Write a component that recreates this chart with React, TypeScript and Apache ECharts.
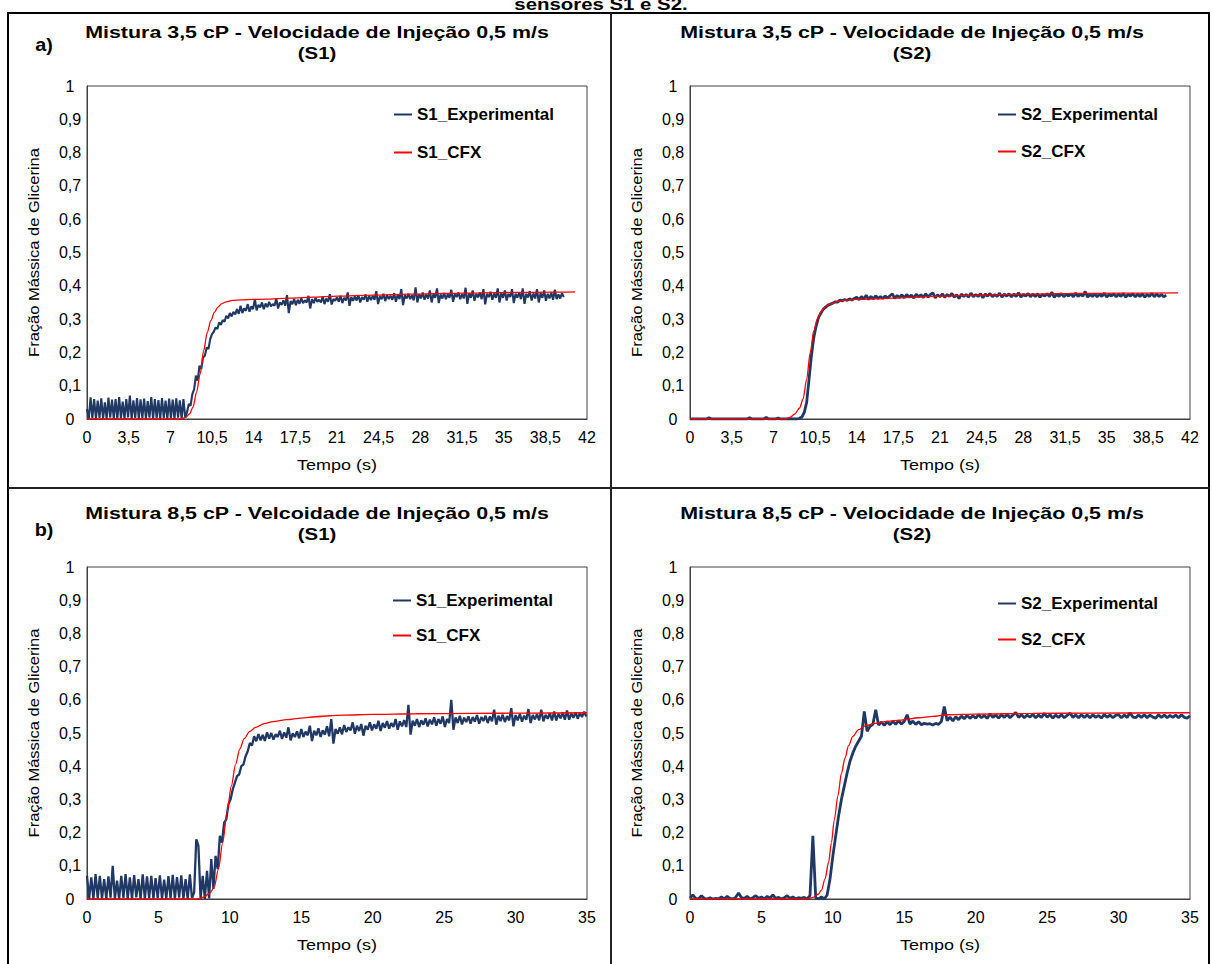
import React, { useEffect, useRef } from 'react';
import * as echarts from 'echarts';

const FONT = "'Liberation Sans', Arial, Helvetica, sans-serif";

// ---------- text ----------
const TOP_TITLE = 'sensores S1 e S2.';
const TITLE_A = ['Mistura 3,5 cP - Velocidade de Injeção 0,5 m/s', '(S1)'];
const TITLE_C = ['Mistura 3,5 cP - Velocidade de Injeção 0,5 m/s', '(S2)'];
const TITLE_B = ['Mistura 8,5 cP - Velcoidade de Injeção 0,5 m/s', '(S1)'];
const TITLE_D = ['Mistura 8,5 cP - Velocidade de Injeção 0,5 m/s', '(S2)'];
const X_NAME = 'Tempo (s)';
const Y_NAME = 'Fração Mássica de Glicerina';

// ---------- axes ----------
const X_MAX_TOP = 42;
const X_STEP_TOP = 3.5;
const X_MAX_BOTTOM = 35;
const X_STEP_BOTTOM = 5;
const Y_MAX = 1;
const Y_STEP = 0.1;

// ---------- data ----------
// sampling step (s) of each experimental record
const DT_A = 0.15;
const DT_B = 0.15;
const DT_C = 0.2;
const DT_D = 0.2;

// (a) 3,5 cP – S1 experimental
const EXP_A = [
  0.03, 0, 0.065, 0.002, 0.06, 0, 0.055, 0.003, 0.062, 0,
  0.05, 0, 0.064, 0.004, 0.058, 0, 0.06, 0, 0.066, 0.002,
  0.052, 0, 0.06, 0.005, 0.07, 0, 0.056, 0.003, 0.063, 0,
  0.059, 0.002, 0.061, 0, 0.054, 0.004, 0.066, 0, 0.06, 0.002,
  0.057, 0, 0.063, 0.003, 0.055, 0, 0.061, 0.002, 0.058, 0,
  0.062, 0.004, 0.056, 0, 0.06, 0.005, 0.02, 0.045, 0.04, 0.075,
  0.09, 0.13, 0.115, 0.16, 0.15, 0.185, 0.19, 0.215, 0.21, 0.24,
  0.255, 0.262, 0.275, 0.27, 0.29, 0.283, 0.297, 0.292, 0.31, 0.302,
  0.318, 0.308, 0.322, 0.314, 0.33, 0.316, 0.34, 0.318, 0.332, 0.325,
  0.345, 0.322, 0.338, 0.33, 0.36, 0.326, 0.343, 0.335, 0.35, 0.33,
  0.347, 0.336, 0.352, 0.338, 0.345, 0.34, 0.362, 0.332, 0.35, 0.343,
  0.356, 0.34, 0.372, 0.318, 0.354, 0.345, 0.36, 0.342, 0.358, 0.346,
  0.362, 0.348, 0.356, 0.35, 0.37, 0.332, 0.36, 0.348, 0.364, 0.352,
  0.358, 0.35, 0.368, 0.345, 0.362, 0.352, 0.375, 0.344, 0.36, 0.355,
  0.366, 0.352, 0.37, 0.348, 0.364, 0.356, 0.38, 0.34, 0.366, 0.355,
  0.368, 0.356, 0.372, 0.35, 0.366, 0.358, 0.374, 0.352, 0.37, 0.357,
  0.37, 0.358, 0.384, 0.345, 0.368, 0.36, 0.376, 0.354, 0.372, 0.36,
  0.37, 0.358, 0.378, 0.352, 0.374, 0.36, 0.39, 0.342, 0.372, 0.362,
  0.376, 0.36, 0.372, 0.356, 0.395, 0.35, 0.375, 0.362, 0.38, 0.358,
  0.374, 0.362, 0.386, 0.35, 0.376, 0.364, 0.392, 0.348, 0.374, 0.362,
  0.378, 0.36, 0.374, 0.364, 0.388, 0.352, 0.376, 0.366, 0.38, 0.36,
  0.375, 0.362, 0.394, 0.346, 0.378, 0.364, 0.386, 0.355, 0.376, 0.365,
  0.38, 0.36, 0.39, 0.344, 0.376, 0.366, 0.382, 0.358, 0.377, 0.364,
  0.392, 0.35, 0.378, 0.364, 0.386, 0.356, 0.376, 0.366, 0.39, 0.348,
  0.376, 0.364, 0.38, 0.36, 0.392, 0.346, 0.376, 0.365, 0.384, 0.356,
  0.377, 0.362, 0.39, 0.35, 0.378, 0.364, 0.386, 0.355, 0.376, 0.362,
  0.38, 0.358, 0.388, 0.36, 0.374, 0.362, 0.378, 0.366,
];

// (a) 3,5 cP – S1 CFX  [tempo, fração]
const CFX_A = [
  [0, 0], [7.9, 0], [8.3, 0.005], [8.6, 0.015], [8.9, 0.035], [9.2, 0.08],
  [9.5, 0.135], [9.8, 0.205], [10.1, 0.26], [10.4, 0.295], [10.7, 0.32],
  [11.0, 0.336], [11.3, 0.346], [11.7, 0.352], [12.2, 0.356], [13, 0.358],
  [14, 0.359], [15, 0.36], [17, 0.363], [19, 0.366], [21, 0.369], [24, 0.372],
  [27, 0.375], [30, 0.377], [33, 0.379], [36, 0.38], [39, 0.381], [41, 0.382],
];

// (a) 3,5 cP – S2 experimental
const EXP_C = [
  0, 0, 0, 0, 0, 0, 0, 0, 0.004, 0,
  0, 0, 0, 0, 0, 0, 0, 0, 0, 0,
  0, 0, 0, 0, 0, 0.004, 0, 0, 0, 0,
  0, 0, 0.005, 0, 0, 0, 0, 0.003, 0, 0,
  0, 0, 0, 0, 0, 0, 0.002, 0.006, 0.02, 0.05,
  0.12, 0.19, 0.245, 0.28, 0.305, 0.318, 0.33, 0.336, 0.342, 0.345,
  0.348, 0.352, 0.351, 0.357, 0.355, 0.359, 0.356, 0.361, 0.357, 0.362,
  0.366, 0.358, 0.368, 0.36, 0.372, 0.359, 0.368, 0.361, 0.37, 0.362,
  0.368, 0.362, 0.369, 0.363, 0.37, 0.376, 0.362, 0.371, 0.365, 0.373,
  0.364, 0.374, 0.366, 0.372, 0.363, 0.375, 0.367, 0.373, 0.365, 0.376,
  0.366, 0.374, 0.379, 0.364, 0.373, 0.367, 0.376, 0.365, 0.374, 0.368,
  0.377, 0.366, 0.373, 0.362, 0.375, 0.368, 0.374, 0.366, 0.378, 0.367,
  0.374, 0.368, 0.376, 0.364, 0.375, 0.369, 0.377, 0.367, 0.374, 0.368,
  0.378, 0.366, 0.375, 0.369, 0.376, 0.367, 0.375, 0.368, 0.379, 0.366,
  0.374, 0.369, 0.377, 0.367, 0.375, 0.368, 0.376, 0.366, 0.374, 0.369,
  0.376, 0.368, 0.381, 0.365, 0.375, 0.368, 0.377, 0.367, 0.374, 0.369,
  0.376, 0.367, 0.378, 0.368, 0.375, 0.369, 0.383, 0.366, 0.374, 0.368,
  0.376, 0.367, 0.375, 0.368, 0.378, 0.366, 0.374, 0.369, 0.376, 0.367,
  0.375, 0.368, 0.377, 0.366, 0.374, 0.369, 0.376, 0.367, 0.375, 0.368,
  0.376, 0.366, 0.374, 0.368, 0.377, 0.367, 0.375, 0.368, 0.374, 0.367, 0.372,
];

// (a) 3,5 cP – S2 CFX
const CFX_C = [
  [0, 0], [8.0, 0], [8.4, 0.005], [8.8, 0.015], [9.2, 0.033], [9.5, 0.06],
  [9.8, 0.12], [10.1, 0.2], [10.4, 0.265], [10.7, 0.3], [11.0, 0.322],
  [11.4, 0.338], [11.8, 0.346], [12.4, 0.353], [13, 0.357], [14, 0.359],
  [15, 0.36], [16, 0.361], [17, 0.363], [19, 0.366], [21, 0.369], [24, 0.372],
  [28, 0.375], [32, 0.377], [36, 0.378], [41, 0.379],
];

// (b) 8,5 cP – S1 experimental
const EXP_B = [
  0.07, 0, 0.065, 0, 0.075, 0.002, 0.07, 0, 0.06, 0,
  0.068, 0.004, 0.1, 0, 0.055, 0, 0.07, 0.003, 0.075, 0,
  0.065, 0, 0.072, 0.005, 0.06, 0, 0.074, 0, 0.068, 0.002,
  0.07, 0, 0.063, 0.003, 0.071, 0, 0.058, 0, 0.069, 0.002,
  0.073, 0, 0.066, 0.004, 0.071, 0, 0.06, 0, 0.074, 0.003,
  0.02, 0.18, 0.16, 0, 0.07, 0, 0.085, 0.002, 0.12, 0.03,
  0.13, 0.09, 0.19, 0.17, 0.23, 0.24, 0.285, 0.3, 0.33, 0.35,
  0.37, 0.375, 0.4, 0.405, 0.43, 0.445, 0.47, 0.462, 0.49, 0.475,
  0.497, 0.478, 0.494, 0.476, 0.502, 0.483, 0.5, 0.48, 0.496, 0.488,
  0.507, 0.482, 0.502, 0.486, 0.517, 0.478, 0.499, 0.488, 0.505, 0.484,
  0.512, 0.488, 0.504, 0.493, 0.522, 0.476, 0.507, 0.493, 0.514, 0.488,
  0.508, 0.495, 0.52, 0.49, 0.542, 0.468, 0.512, 0.498, 0.517, 0.496,
  0.524, 0.503, 0.517, 0.508, 0.532, 0.498, 0.522, 0.506, 0.527, 0.492,
  0.522, 0.51, 0.532, 0.508, 0.526, 0.513, 0.537, 0.506, 0.53, 0.516,
  0.536, 0.513, 0.53, 0.518, 0.542, 0.51, 0.535, 0.52, 0.539, 0.518,
  0.585, 0.495, 0.537, 0.522, 0.542, 0.518, 0.538, 0.525, 0.544, 0.52,
  0.54, 0.526, 0.547, 0.522, 0.542, 0.528, 0.55, 0.518, 0.542, 0.53,
  0.6, 0.51, 0.547, 0.53, 0.552, 0.526, 0.546, 0.533, 0.55, 0.528,
  0.548, 0.534, 0.554, 0.528, 0.548, 0.536, 0.552, 0.53, 0.55, 0.535,
  0.57, 0.525, 0.552, 0.536, 0.555, 0.533, 0.551, 0.538, 0.575, 0.52,
  0.554, 0.538, 0.558, 0.534, 0.552, 0.54, 0.572, 0.53, 0.554, 0.541,
  0.557, 0.538, 0.57, 0.535, 0.555, 0.543, 0.56, 0.538, 0.565, 0.538,
  0.558, 0.544, 0.562, 0.54, 0.568, 0.54, 0.559, 0.546, 0.562, 0.543,
  0.56, 0.548, 0.564, 0.55,
];

// (b) 8,5 cP – S1 CFX
const CFX_B = [
  [0, 0], [7.8, 0], [8.2, 0.006], [8.6, 0.018], [8.9, 0.035], [9.2, 0.09],
  [9.5, 0.17], [9.8, 0.26], [10.1, 0.34], [10.4, 0.405], [10.7, 0.452],
  [11.0, 0.483], [11.4, 0.505], [11.8, 0.517], [12.4, 0.528], [13, 0.534],
  [14, 0.54], [15, 0.545], [16, 0.549], [17, 0.552], [18, 0.554], [20, 0.556],
  [23, 0.558], [27, 0.559], [31, 0.56], [35, 0.561],
];

// (b) 8,5 cP – S2 experimental
const EXP_D = [
  0.003, 0.012, 0.002, 0, 0.01, 0.002, 0, 0.004, 0, 0.002,
  0, 0.006, 0, 0.008, 0.002, 0, 0.005, 0.018, 0.004, 0.002,
  0.008, 0, 0.004, 0.01, 0.002, 0.006, 0, 0.008, 0.003, 0.012,
  0.002, 0.005, 0, 0.004, 0.01, 0.002, 0.006, 0, 0.004, 0.002,
  0.005, 0, 0.01, 0.19, 0.004, 0, 0.006, 0, 0.012, 0.06,
  0.13, 0.19, 0.25, 0.3, 0.34, 0.38, 0.415, 0.44, 0.46, 0.475,
  0.49, 0.565, 0.505, 0.52, 0.526, 0.57, 0.524, 0.533, 0.523, 0.534,
  0.525, 0.535, 0.526, 0.537, 0.527, 0.535, 0.555, 0.527, 0.536, 0.526,
  0.534, 0.525, 0.529, 0.527, 0.528, 0.524, 0.529, 0.526, 0.535, 0.58,
  0.537, 0.548, 0.536, 0.549, 0.54, 0.551, 0.543, 0.553, 0.544, 0.552,
  0.545, 0.555, 0.546, 0.553, 0.544, 0.558, 0.547, 0.554, 0.545, 0.555,
  0.547, 0.556, 0.546, 0.554, 0.562, 0.547, 0.555, 0.546, 0.554, 0.548,
  0.556, 0.546, 0.554, 0.547, 0.559, 0.548, 0.555, 0.545, 0.554, 0.547,
  0.555, 0.546, 0.553, 0.56, 0.547, 0.554, 0.546, 0.555, 0.547, 0.554,
  0.546, 0.555, 0.547, 0.553, 0.545, 0.556, 0.547, 0.554, 0.546, 0.553,
  0.555, 0.546, 0.554, 0.547, 0.561, 0.548, 0.546, 0.554, 0.547, 0.555,
  0.546, 0.554, 0.548, 0.545, 0.555, 0.547, 0.554, 0.546, 0.553, 0.547,
  0.554, 0.546, 0.555, 0.547, 0.545, 0.552,
];

// (b) 8,5 cP – S2 CFX
const CFX_D = [
  [0, 0], [8.2, 0], [8.6, 0.005], [9.0, 0.015], [9.2, 0.027], [9.45, 0.06],
  [9.7, 0.11], [9.9, 0.17], [10.1, 0.238], [10.35, 0.31], [10.6, 0.378],
  [10.85, 0.425], [11.1, 0.462], [11.4, 0.49], [11.8, 0.51], [12.3, 0.522],
  [12.9, 0.529], [13.8, 0.535], [14.8, 0.539], [16, 0.546], [17, 0.55],
  [18, 0.555], [20, 0.557], [24, 0.559], [28, 0.56], [35, 0.561],
];

const NAV = '#1F3864';
const RED = '#FF0000';

const fmt = (v: number) => String(Math.round(v * 10) / 10).replace('.', ',');
const withTime = (vals: number[], dt: number) =>
  vals.map((v, i) => [Math.round(i * dt * 1000) / 1000, v]);

type Panel = {
  grid: { left: number; top: number; width: number; height: number };
  xMax: number;
  xStep: number;
  exp: number[][];
  cfx: number[][];
  expName: string;
  cfxName: string;
  expWidth: number;
  title: string[];
  titleX: number;
  titleY: number;
  legend: { left: number; top: number; gap: number };
};

const PANELS: Panel[] = [
  {
    grid: { left: 87, top: 86, width: 500, height: 333 },
    xMax: X_MAX_TOP, xStep: X_STEP_TOP,
    exp: withTime(EXP_A, DT_A), cfx: CFX_A,
    expName: 'S1_Experimental', cfxName: 'S1_CFX', expWidth: 2.1,
    title: TITLE_A, titleX: 317, titleY: 32,
    legend: { left: 394, top: 106, gap: 21 },
  },
  {
    grid: { left: 690, top: 86, width: 500, height: 333 },
    xMax: X_MAX_TOP, xStep: X_STEP_TOP,
    exp: withTime(EXP_C, DT_C), cfx: CFX_C,
    expName: 'S2_Experimental', cfxName: 'S2_CFX', expWidth: 2.8,
    title: TITLE_C, titleX: 912, titleY: 32,
    legend: { left: 998, top: 106, gap: 20 },
  },
  {
    grid: { left: 87, top: 567, width: 500, height: 332 },
    xMax: X_MAX_BOTTOM, xStep: X_STEP_BOTTOM,
    exp: withTime(EXP_B, DT_B), cfx: CFX_B,
    expName: 'S1_Experimental', cfxName: 'S1_CFX', expWidth: 2.3,
    title: TITLE_B, titleX: 317, titleY: 513,
    legend: { left: 393, top: 592, gap: 18 },
  },
  {
    grid: { left: 690, top: 567, width: 500, height: 332 },
    xMax: X_MAX_BOTTOM, xStep: X_STEP_BOTTOM,
    exp: withTime(EXP_D, DT_D), cfx: CFX_D,
    expName: 'S2_Experimental', cfxName: 'S2_CFX', expWidth: 2.8,
    title: TITLE_D, titleX: 912, titleY: 513,
    legend: { left: 998, top: 595, gap: 19 },
  },
];

const text = (t: string, x: number, y: number, size: number, bold: boolean, extra: any = {}) => ({
  type: 'text',
  x,
  y,
  silent: true,
  ...extra,
  style: {
    text: t,
    fill: '#000',
    fontSize: size,
    fontWeight: bold ? 'bold' : 'normal',
    fontFamily: FONT,
    textAlign: 'center',
    textVerticalAlign: 'middle',
    align: 'center',
    verticalAlign: 'middle',
  },
});

export default function App() {
  const ref = useRef<HTMLDivElement>(null);

  useEffect(() => {
    if (!ref.current) return;
    const chart = echarts.init(ref.current, undefined, { renderer: 'svg' });

    const graphic: any[] = [
      {
        type: 'rect', silent: true, z: -10,
        shape: { x: 8, y: 13, width: 1201, height: 960 },
        style: { fill: 'none', stroke: '#000', lineWidth: 2 },
      },
      {
        type: 'line', silent: true, z: -10,
        shape: { x1: 611, y1: 13, x2: 611, y2: 964 },
        style: { stroke: '#222', lineWidth: 2 },
      },
      {
        type: 'line', silent: true, z: -10,
        shape: { x1: 8, y1: 488, x2: 1209, y2: 488 },
        style: { stroke: '#222', lineWidth: 2 },
      },
      text(TOP_TITLE, 601, 4, 17, true, { scaleX: 1.2 }),
      text('a)', 44, 45, 18, true, { scaleX: 1.1 }),
      text('b)', 44, 530, 18, true, { scaleX: 1.1 }),
    ];

    PANELS.forEach((p) => {
      graphic.push(text(p.title[0], p.titleX, p.titleY, 17, true, { scaleX: 1.26 }));
      graphic.push(text(p.title[1], p.titleX, p.titleY + 21, 17, true, { scaleX: 1.2 }));
      const cx = p.grid.left + p.grid.width / 2;
      const cy = p.grid.top + p.grid.height / 2;
      graphic.push(text(X_NAME, cx, p.grid.top + p.grid.height + 46, 15, false, { scaleX: 1.2 }));
      graphic.push(
        text(Y_NAME, p.grid.left - 53, cy, 15, false, { rotation: Math.PI / 2, scaleX: 1.1 })
      );
    });

    const option: any = {
      animation: false,
      backgroundColor: '#fff',
      textStyle: { fontFamily: FONT },
      grid: PANELS.map((p) => ({
        ...p.grid,
        show: true,
        borderColor: '#404040',
        borderWidth: 1,
        backgroundColor: 'transparent',
        containLabel: false,
      })),
      xAxis: PANELS.map((p, i) => ({
        type: 'value',
        gridIndex: i,
        min: 0,
        max: p.xMax,
        interval: p.xStep,
        axisLine: { show: true, lineStyle: { color: '#404040', width: 1 } },
        axisTick: { show: false },
        splitLine: { show: false },
        axisLabel: { formatter: fmt, fontSize: 16, color: '#000', margin: 10, fontFamily: FONT },
      })),
      yAxis: PANELS.map((p, i) => ({
        type: 'value',
        gridIndex: i,
        min: 0,
        max: Y_MAX,
        interval: Y_STEP,
        axisLine: { show: true, lineStyle: { color: '#404040', width: 1 } },
        axisTick: { show: false },
        splitLine: { show: false },
        axisLabel: {
          formatter: fmt, fontSize: 16, color: '#000', margin: 17, align: 'center', fontFamily: FONT,
        },
      })),
      legend: PANELS.map((p) => ({
        data: [p.expName, p.cfxName],
        orient: 'vertical',
        left: p.legend.left,
        top: p.legend.top,
        padding: 0,
        itemGap: p.legend.gap,
        icon: 'rect',
        itemWidth: 18,
        itemHeight: 2,
        selectedMode: false,
        textStyle: { fontSize: 17, fontWeight: 'bold', color: '#000', fontFamily: FONT, lineHeight: 17 },
      })),
      series: PANELS.flatMap((p, i) => [
        {
          name: p.expName,
          type: 'line',
          xAxisIndex: i,
          yAxisIndex: i,
          data: p.exp,
          symbol: 'none',
          showSymbol: false,
          color: NAV,
          itemStyle: { color: NAV },
          lineStyle: { color: NAV, width: p.expWidth },
          z: 2,
        },
        {
          name: p.cfxName,
          type: 'line',
          xAxisIndex: i,
          yAxisIndex: i,
          data: p.cfx,
          symbol: 'none',
          showSymbol: false,
          smooth: 0.3,
          smoothMonotone: 'x',
          color: RED,
          itemStyle: { color: RED },
          lineStyle: { color: RED, width: 1.3 },
          z: 3,
        },
      ]),
      graphic,
    };

    chart.setOption(option);
    return () => chart.dispose();
  }, []);

  return (
    <div
      ref={ref}
      style={{ position: 'fixed', left: 0, top: 0, width: 1213, height: 964, background: '#fff' }}
    />
  );
}
